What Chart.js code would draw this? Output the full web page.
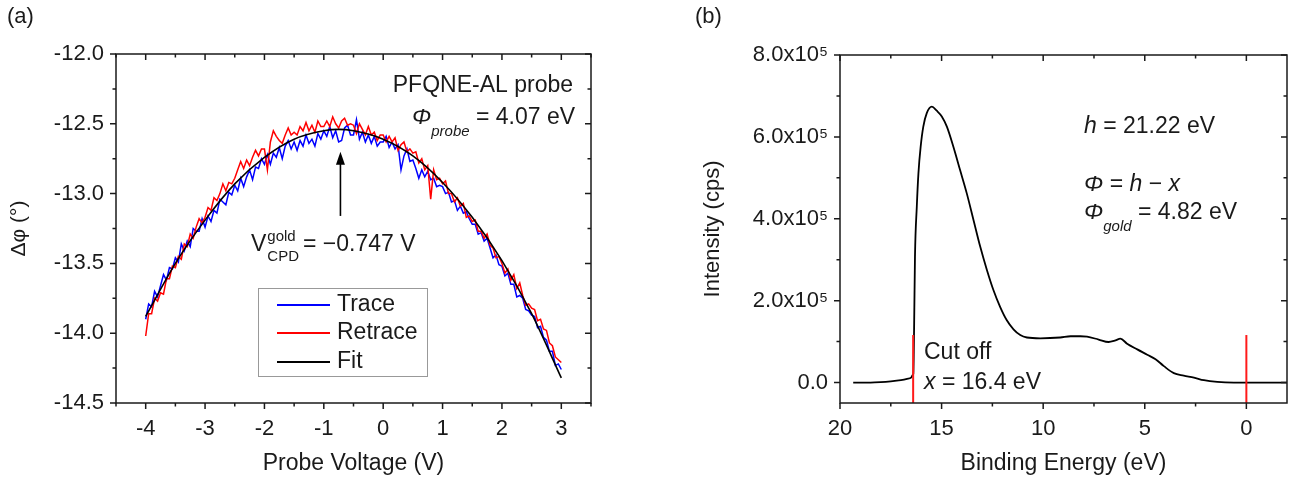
<!DOCTYPE html>
<html>
<head>
<meta charset="utf-8">
<script src="https://cdn.jsdelivr.net/npm/chart.js@4.4.1/dist/chart.umd.min.js"></script>
<style>
  body { margin: 0; background: #fff; }
  #wrap { position: relative; width: 1297px; height: 477px; }
  #left { position: absolute; left: 0; top: 0; }
  #right { position: absolute; left: 648px; top: 0; }
</style>
</head>
<body>
<div id="wrap">
  <canvas id="left" width="648" height="477"></canvas>
  <canvas id="right" width="649" height="477"></canvas>
</div>
<script>
// ---- panel (a): KPFM phase vs probe voltage ----
const voltage = [
  -4.00, -3.95, -3.90, -3.85, -3.80, -3.75, -3.70, -3.65, -3.60, -3.55,
  -3.50, -3.45, -3.40, -3.35, -3.30, -3.25, -3.20, -3.15, -3.10, -3.05,
  -3.00, -2.95, -2.90, -2.85, -2.80, -2.75, -2.70, -2.65, -2.60, -2.55,
  -2.50, -2.45, -2.40, -2.35, -2.30, -2.25, -2.20, -2.15, -2.10, -2.05,
  -2.00, -1.95, -1.90, -1.85, -1.80, -1.75, -1.70, -1.65, -1.60, -1.55,
  -1.50, -1.45, -1.40, -1.35, -1.30, -1.25, -1.20, -1.15, -1.10, -1.05,
  -1.00, -0.95, -0.90, -0.85, -0.80, -0.75, -0.70, -0.65, -0.60, -0.55,
  -0.50, -0.45, -0.40, -0.35, -0.30, -0.25, -0.20, -0.15, -0.10, -0.05,
  0.00, 0.05, 0.10, 0.15, 0.20, 0.25, 0.30, 0.35, 0.40, 0.45,
  0.50, 0.55, 0.60, 0.65, 0.70, 0.75, 0.80, 0.85, 0.90, 0.95,
  1.00, 1.05, 1.10, 1.15, 1.20, 1.25, 1.30, 1.35, 1.40, 1.45,
  1.50, 1.55, 1.60, 1.65, 1.70, 1.75, 1.80, 1.85, 1.90, 1.95,
  2.00, 2.05, 2.10, 2.15, 2.20, 2.25, 2.30, 2.35, 2.40, 2.45,
  2.50, 2.55, 2.60, 2.65, 2.70, 2.75, 2.80, 2.85, 2.90, 2.95,
  3.00
];
const tracePhase = [
  -13.90, -13.79, -13.81, -13.70, -13.74, -13.66, -13.58, -13.62, -13.53, -13.54,
  -13.46, -13.49, -13.36, -13.41, -13.34, -13.38, -13.25, -13.27, -13.27, -13.18,
  -13.24, -13.16, -13.20, -13.12, -13.14, -13.04, -13.06, -13.08, -12.99, -13.01,
  -12.94, -12.98, -12.89, -12.95, -12.88, -12.83, -12.90, -12.81, -12.82, -12.75,
  -12.79, -12.72, -12.79, -12.71, -12.74, -12.67, -12.75, -12.66, -12.62, -12.68,
  -12.63, -12.69, -12.62, -12.66, -12.58, -12.64, -12.61, -12.66, -12.57, -12.61,
  -12.55, -12.59, -12.52, -12.60, -12.55, -12.63, -12.62, -12.53, -12.51, -12.58,
  -12.58, -12.47, -12.61, -12.56, -12.63, -12.58, -12.64, -12.59, -12.66, -12.63,
  -12.63, -12.59, -12.67, -12.63, -12.68, -12.65, -12.83, -12.73, -12.68, -12.77,
  -12.76, -12.82, -12.89, -12.83, -12.88, -12.84, -12.90, -12.89, -12.95, -12.94,
  -12.95, -13.00, -12.99, -13.06, -13.05, -13.12, -13.09, -13.14, -13.13, -13.18,
  -13.22, -13.22, -13.29, -13.28, -13.34, -13.32, -13.39, -13.46, -13.44, -13.51,
  -13.52, -13.59, -13.57, -13.65, -13.65, -13.74, -13.73, -13.75, -13.83, -13.84,
  -13.87, -13.88, -13.96, -13.95, -14.03, -14.05, -14.13, -14.13, -14.23, -14.22,
  -14.26
];
const retracePhase = [
  -14.02, -13.86, -13.86, -13.75, -13.77, -13.71, -13.72, -13.61, -13.61, -13.52,
  -13.53, -13.45, -13.47, -13.36, -13.38, -13.29, -13.32, -13.24, -13.18, -13.21,
  -13.17, -13.10, -13.12, -13.03, -13.05, -13.00, -12.93, -12.98, -12.92, -12.93,
  -12.89, -12.83, -12.77, -12.82, -12.76, -12.80, -12.74, -12.69, -12.73, -12.68,
  -12.68, -12.83, -12.63, -12.55, -12.59, -12.62, -12.64, -12.58, -12.53, -12.58,
  -12.56, -12.58, -12.52, -12.55, -12.49, -12.55, -12.51, -12.56, -12.48, -12.52,
  -12.52, -12.48, -12.52, -12.45, -12.50, -12.53, -12.48, -12.46, -12.51, -12.50,
  -12.51, -12.57, -12.50, -12.54, -12.58, -12.52, -12.58, -12.56, -12.62, -12.58,
  -12.58, -12.63, -12.59, -12.63, -12.60, -12.69, -12.65, -12.63, -12.70, -12.68,
  -12.71, -12.70, -12.78, -12.75, -12.83, -12.80, -13.04, -12.83, -12.90, -12.89,
  -12.93, -12.91, -13.00, -13.00, -13.06, -13.03, -13.09, -13.07, -13.17, -13.16,
  -13.20, -13.19, -13.27, -13.27, -13.32, -13.29, -13.37, -13.39, -13.46, -13.45,
  -13.50, -13.57, -13.54, -13.62, -13.58, -13.68, -13.64, -13.73, -13.80, -13.79,
  -13.82, -13.83, -13.91, -13.90, -13.97, -13.98, -14.07, -14.09, -14.17, -14.19,
  -14.21
];
const fitVoltage = [-4, -3.5, -3, -2.5, -2, -1.5, -1, -0.75, -0.5, 0, 0.5, 1, 1.5, 2, 2.5, 3];
const fitPhase = [-13.88, -13.50, -13.19, -12.93, -12.74, -12.61, -12.55, -12.54, -12.55, -12.61, -12.73, -12.92, -13.17, -13.48, -13.86, -14.32];

const voltMajor = [-4, -3, -2, -1, 0, 1, 2, 3];
const voltMinor = [-4.5, -3.5, -2.5, -1.5, -0.5, 0.5, 1.5, 2.5, 3.5];
const phaseMajor = [-14.5, -14.0, -13.5, -13.0, -12.5, -12.0];
const phaseMinor = [-14.25, -13.75, -13.25, -12.75, -12.25];

// ---- panel (b): UPS spectrum of gold ----
const energy = [19.35, 18.5, 18.0, 17.5, 17.0, 16.7, 16.5, 16.42, 16.39, 16.35, 16.31, 16.22, 16.14, 16.03, 15.90,
  15.73, 15.48, 15.24, 14.99, 14.74, 14.42, 14.09, 13.76, 13.43, 13.10, 12.77, 12.45, 12.12, 11.79, 11.46,
  11.13, 10.80, 10.14, 9.16, 8.65, 8.17, 7.84, 7.27, 6.78, 6.44, 6.20, 5.87, 5.37, 4.88, 4.47,
  4.06, 3.57, 3.08, 2.58, 2.09, 1.43, 0.61, -2.0];
const intensity = [0, 0, 1000, 3000, 6000, 9000, 12000, 18000, 22000, 144000, 307000, 430000, 511000, 576000, 625000,
  658000, 674000, 664000, 650000, 625000, 576000, 519000, 462000, 397000, 332000, 275000, 226000, 185000, 152000, 130000,
  116000, 110000, 108000, 110000, 113000, 113000, 112000, 105000, 99000, 103000, 107000, 95000, 81000, 68000, 57000,
  40000, 23000, 17000, 12000, 5600, 1500, 0, 0];
const markerEnergy = [16.4, 0];
const markerTop = 116000;

const energyMajor = [20, 15, 10, 5, 0];
const energyMinor = [17.5, 12.5, 7.5, 2.5];
const countMajor = [0, 200000, 400000, 600000, 800000];
const countMinor = [100000, 300000, 500000, 700000];

const FONT = '"Liberation Sans", Arial, sans-serif';
const INK = '#1a1a1a';

function pairs(xs, ys) {
  return xs.map((v, i) => ({ x: v, y: ys[i] }));
}

// text runs drawn one after the other: [text, size, italic, dy]
function runs(ctx, x, y, parts, align) {
  ctx.save();
  ctx.fillStyle = INK;
  ctx.textBaseline = 'middle';
  ctx.textAlign = 'left';
  const fontOf = p => (p[2] ? 'italic ' : '') + p[1] + 'px ' + FONT;
  if (align === 'right') {
    let w = 0;
    parts.forEach(p => { ctx.font = fontOf(p); w += ctx.measureText(p[0]).width; });
    x -= w;
  }
  parts.forEach(p => {
    ctx.font = fontOf(p);
    ctx.fillText(p[0], x, y + (p[3] || 0));
    x += ctx.measureText(p[0]).width;
  });
  ctx.restore();
  return x;
}

// closed axis box with outward ticks bottom/left and inward ticks top/right
const framePlugin = {
  id: 'frame',
  afterDatasetsDraw(chart, args, opts) {
    const { ctx, chartArea: a, scales: { x, y } } = chart;
    ctx.save();
    ctx.strokeStyle = INK;
    ctx.lineWidth = 1.5;
    ctx.strokeRect(a.left, a.top, a.right - a.left, a.bottom - a.top);
    ctx.beginPath();
    const xt = (vals, len) => vals.forEach(v => {
      const px = x.getPixelForValue(v);
      if (px < a.left - 0.5 || px > a.right + 0.5) return;
      ctx.moveTo(px, a.bottom); ctx.lineTo(px, a.bottom + len);
      ctx.moveTo(px, a.top); ctx.lineTo(px, a.top + len);
    });
    const yt = (vals, len) => vals.forEach(v => {
      const py = y.getPixelForValue(v);
      if (py < a.top - 0.5 || py > a.bottom + 0.5) return;
      ctx.moveTo(a.left, py); ctx.lineTo(a.left - len, py);
      ctx.moveTo(a.right, py); ctx.lineTo(a.right - len, py);
    });
    xt(opts.xMajor, 6); xt(opts.xMinor, 3.5);
    yt(opts.yMajor, 6); yt(opts.yMinor, 3.5);
    ctx.stroke();
    ctx.restore();
  }
};

const notesA = {
  id: 'notesA',
  afterDraw(chart) {
    const { ctx, scales: { x, y } } = chart;
    runs(ctx, 7, 17, [['(a)', 22]]);
    runs(ctx, 573, 86, [['PFQNE-AL probe', 23]], 'right');
    const nx = runs(ctx, 412, 118, [['Φ', 23, true]]);
    runs(ctx, nx, 118, [['probe', 15, true, 14], [' = 4.07 eV', 23]]);

    // arrow pointing at the fitted maximum
    const ax = x.getPixelForValue(-0.72);
    const tip = y.getPixelForValue(-12.70), tail = y.getPixelForValue(-13.16);
    ctx.save();
    ctx.strokeStyle = '#000'; ctx.fillStyle = '#000'; ctx.lineWidth = 1.6;
    ctx.beginPath(); ctx.moveTo(ax, tail); ctx.lineTo(ax, tip + 10); ctx.stroke();
    ctx.beginPath(); ctx.moveTo(ax, tip); ctx.lineTo(ax - 4.5, tip + 13); ctx.lineTo(ax + 4.5, tip + 13); ctx.closePath(); ctx.fill();
    ctx.restore();

    const vx = runs(ctx, 251, 245, [['V', 23]]);
    runs(ctx, vx + 1, 237, [['gold', 15]]);
    runs(ctx, vx + 1, 257, [['CPD', 15]]);
    runs(ctx, 303, 245, [['= −0.747 V', 23]]);

    // legend box
    const order = ['Trace', 'Retrace', 'Fit'];
    const rows = [305, 333, 362];
    ctx.save();
    ctx.fillStyle = '#fff';
    ctx.fillRect(258, 288, 169, 88);
    ctx.strokeStyle = '#999'; ctx.lineWidth = 1;
    ctx.strokeRect(258.5, 288.5, 169, 88);
    order.forEach((name, i) => {
      const ds = chart.data.datasets.find(d => d.label === name);
      ctx.strokeStyle = ds.borderColor; ctx.lineWidth = 2;
      ctx.beginPath(); ctx.moveTo(277, rows[i]); ctx.lineTo(330, rows[i]); ctx.stroke();
      runs(ctx, 337, rows[i], [[name, 23]]);
    });
    ctx.restore();
  }
};

const notesB = {
  id: 'notesB',
  afterDraw(chart) {
    const { ctx } = chart;
    runs(ctx, 47, 17, [['(b)', 22]]);
    runs(ctx, 436, 127, [['h', 23, true], [' = 21.22 eV', 23]]);
    runs(ctx, 436, 185, [['Φ', 23, true], [' = ', 23], ['h', 23, true], [' − ', 23], ['x', 23, true]]);
    runs(ctx, 436, 213, [['Φ', 23, true], ['gold', 15, true, 14], [' = 4.82 eV', 23]]);
    runs(ctx, 276, 353, [['Cut off', 23]]);
    runs(ctx, 276, 383, [['x', 23, true], [' = 16.4 eV', 23]]);
  }
};

function axis(extra) {
  return Object.assign({
    type: 'linear',
    grid: { display: false, drawTicks: false },
    border: { display: false },
  }, extra);
}

new Chart(document.getElementById('left'), {
  type: 'line',
  data: {
    datasets: [
      { label: 'Fit', data: pairs(fitVoltage, fitPhase), borderColor: '#000000', borderWidth: 1.6,
        pointRadius: 0, cubicInterpolationMode: 'monotone' },
      { label: 'Retrace', data: pairs(voltage, retracePhase), borderColor: '#ff0000', borderWidth: 1.5, pointRadius: 0 },
      { label: 'Trace', data: pairs(voltage, tracePhase), borderColor: '#0000ff', borderWidth: 1.5, pointRadius: 0 }
    ]
  },
  options: {
    responsive: false,
    animation: false,
    events: [],
    layout: { padding: { left: 0, right: 57, top: 54, bottom: 0 } },
    plugins: {
      legend: { display: false },
      tooltip: { enabled: false },
      frame: { xMajor: voltMajor, xMinor: voltMinor, yMajor: phaseMajor, yMinor: phaseMinor }
    },
    scales: {
      x: axis({
        min: -4.5, max: 3.5,
        afterBuildTicks: s => { s.ticks = voltMajor.map(v => ({ value: v })); },
        afterFit: s => { s.height = 74; },
        ticks: { padding: 13, color: INK, font: { family: FONT, size: 22 }, callback: v => String(v) },
        title: { display: true, text: 'Probe Voltage (V)', color: INK, font: { family: FONT, size: 23 }, padding: 0 }
      }),
      y: axis({
        min: -14.5, max: -12.0,
        afterBuildTicks: s => { s.ticks = phaseMajor.map(v => ({ value: v })); },
        afterFit: s => { s.width = 116; },
        ticks: { padding: 12, color: INK, font: { family: FONT, size: 22 }, callback: v => v.toFixed(1) },
        title: { display: true, text: 'Δφ (°)', color: INK, font: { family: FONT, size: 21 }, padding: { top: 7, bottom: 0 } }
      })
    }
  },
  plugins: [framePlugin, notesA]
});

new Chart(document.getElementById('right'), {
  type: 'line',
  data: {
    datasets: [
      { label: 'Cut off', data: [{ x: markerEnergy[0], y: -50000 }, { x: markerEnergy[0], y: markerTop }],
        borderColor: '#ff1a1a', borderWidth: 2, pointRadius: 0 },
      { label: 'Fermi level', data: [{ x: markerEnergy[1], y: -50000 }, { x: markerEnergy[1], y: markerTop }],
        borderColor: '#ff1a1a', borderWidth: 2, pointRadius: 0 },
      { label: 'Intensity', data: pairs(energy, intensity), borderColor: '#000000', borderWidth: 1.8,
        pointRadius: 0, cubicInterpolationMode: 'monotone' }
    ]
  },
  options: {
    responsive: false,
    animation: false,
    events: [],
    layout: { padding: { left: 0, right: 10, top: 55, bottom: 0 } },
    plugins: {
      legend: { display: false },
      tooltip: { enabled: false },
      frame: { xMajor: energyMajor, xMinor: energyMinor, yMajor: countMajor, yMinor: countMinor }
    },
    scales: {
      x: axis({
        min: -2, max: 20, reverse: true,
        afterBuildTicks: s => { s.ticks = energyMajor.map(v => ({ value: v })); },
        afterFit: s => { s.height = 74; },
        ticks: { padding: 13, color: INK, font: { family: FONT, size: 22 }, callback: v => String(v) },
        title: { display: true, text: 'Binding Energy (eV)', color: INK, font: { family: FONT, size: 23 }, padding: 0 }
      }),
      y: axis({
        min: -50000, max: 800000,
        afterBuildTicks: s => { s.ticks = countMajor.map(v => ({ value: v })); },
        afterFit: s => { s.width = 192; },
        ticks: { padding: 12, color: INK, font: { family: FONT, size: 22 },
          callback: v => v === 0 ? '0.0' : (v / 100000).toFixed(1) + 'x10⁵' },
        title: { display: true, text: 'Intensity (cps)', color: INK, font: { family: FONT, size: 22 }, padding: { top: 52, bottom: 0 } }
      })
    }
  },
  plugins: [framePlugin, notesB]
});
</script>
</body>
</html>
